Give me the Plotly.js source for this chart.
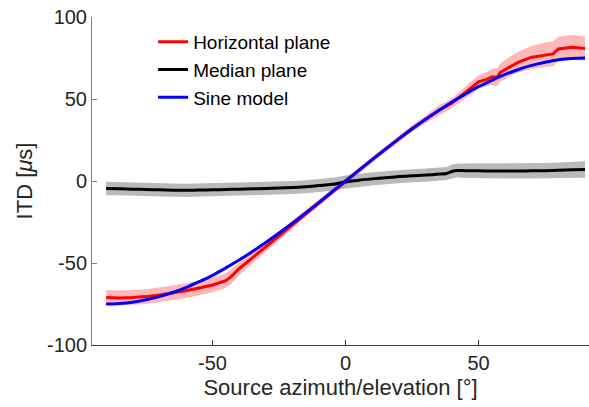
<!DOCTYPE html>
<html>
<head>
<meta charset="utf-8">
<script src="https://cdn.plot.ly/plotly-3.0.1.min.js"></script>
<style>html,body{margin:0;padding:0;background:#fff;}#chart{width:589px;height:407px;}</style>
</head>
<body>
<div id="chart"></div>
<script>
// Horizontal plane (red) – mean ITD and half-width of shaded band
const horizX   = [-90,-85,-80,-75,-70,-65,-60,-55,-50,-45,-43,-40,-35,-30,-25,-20,-15,-10,-5,0,5,10,15,20,25,30,35,40,45,48,50,53,55,57,58,60,63,65,70,75,78,80,85,90];
const horizY   = [-71,-71.3,-71,-70.5,-69.5,-68.3,-66.9,-65.2,-63.4,-60.8,-58.3,-53.5,-46.8,-40,-33.5,-26.6,-19.9,-13.2,-6.5,0,6.5,13,19.5,26,32,37.5,43,47.5,54,57.5,60.5,62,63.5,63.2,66,68,71,72.5,75.5,77,77.5,80.5,81.5,80.8];
const horizErr = [4.5,4.5,4.5,4.5,4.5,4.5,4.5,4.5,4.5,4.5,4.5,4,3.5,3,2.5,2.5,2,2,2,2,2,2,2,2,2,2.5,3,3,3.5,4,4,4.5,5,5.5,5.5,6,6,6.5,7,7.5,7.5,7.5,7.5,7.5];

// Median plane (black)
const medX   = [-90,-85,-80,-75,-70,-65,-60,-55,-50,-45,-40,-35,-30,-25,-20,-15,-10,-5,0,5,10,15,20,25,30,35,38,40,42,45,50,55,60,65,70,75,80,85,90];
const medY   = [-4.5,-4.8,-5,-5.2,-5.4,-5.6,-5.7,-5.5,-5.4,-5.2,-5,-4.8,-4.6,-4.3,-4,-3.5,-2.8,-2,-0.6,0.5,1.3,2,2.7,3.2,3.6,4.2,4.6,5.8,6.4,6.3,6.2,6.1,6.1,6.1,6.2,6.3,6.5,6.8,7];
const medErr = [4,4,4,4,4,4,4,4,4,4,4,4,4,4,4,4,4,4,4,4,4,4,4,4,4,4,4,4.2,4.3,4.4,4.5,4.5,4.5,4.6,4.6,4.7,4.8,4.9,5];

// Sine model (blue)
const sineX = [-90,-85,-80,-75,-70,-65,-60,-55,-50,-45,-40,-35,-30,-25,-20,-15,-10,-5,0,5,10,15,20,25,30,35,40,45,50,55,60,65,70,75,80,85,90];
const sineY = [-75,-74.7,-73.9,-72.4,-70.5,-68,-65,-61.4,-57.5,-53,-48.2,-43,-37.5,-31.7,-25.7,-19.4,-13,-6.5,0,6.5,13,19.4,25.7,31.7,37.5,43,48.2,53,57.5,61.4,65,68,70.5,72.4,73.9,74.7,75];

const xTicks = [-50, 0, 50];
const yTicks = [-100, -50, 0, 50, 100];

const lower = (y, e) => y.map((v, i) => v - e[i]);
const upper = (y, e) => y.map((v, i) => v + e[i]);

const traces = [
  {x: medX, y: lower(medY, medErr), mode: 'lines', line: {width: 0}, showlegend: false, hoverinfo: 'skip'},
  {x: medX, y: upper(medY, medErr), mode: 'lines', line: {width: 0}, fill: 'tonexty', fillcolor: 'rgba(0,0,0,0.27)', showlegend: false, hoverinfo: 'skip'},
  {x: horizX, y: lower(horizY, horizErr), mode: 'lines', line: {width: 0}, showlegend: false, hoverinfo: 'skip'},
  {x: horizX, y: upper(horizY, horizErr), mode: 'lines', line: {width: 0}, fill: 'tonexty', fillcolor: 'rgba(255,0,0,0.28)', showlegend: false, hoverinfo: 'skip'},
  {x: medX, y: medY, mode: 'lines', name: 'Median plane', line: {color: '#000000', width: 3, shape: 'spline', smoothing: 0.6}, legendrank: 2},
  {x: horizX, y: horizY, mode: 'lines', name: 'Horizontal plane', line: {color: '#ff0000', width: 3}, legendrank: 1},
  {x: sineX, y: sineY, mode: 'lines', name: 'Sine model', line: {color: '#0000ff', width: 3, shape: 'spline'}, legendrank: 3}
];

const layout = {
  width: 589, height: 407,
  margin: {l: 92, r: 0, t: 17, b: 62},
  paper_bgcolor: '#ffffff', plot_bgcolor: '#ffffff',
  font: {family: 'Liberation Sans, Arial, sans-serif', color: '#262626'},
  showlegend: true,
  legend: {x: 0.123, y: 0.982, xanchor: 'left', yanchor: 'top', bgcolor: 'rgba(0,0,0,0)', font: {size: 19, color: '#000000'}, traceorder: 'normal'},
  xaxis: {
    range: [-95.3, 91.5], tickvals: xTicks, ticktext: xTicks.map(String),
    ticks: 'inside', ticklen: 5, tickcolor: '#404040', showline: true, linecolor: '#404040', linewidth: 1,
    showgrid: false, zeroline: false, tickfont: {size: 20, color: '#262626'},
    title: {text: 'Source azimuth/elevation [°]', font: {size: 22, color: '#262626'}, standoff: 6}
  },
  yaxis: {
    range: [-100, 100], tickvals: yTicks, ticktext: yTicks.map(String),
    ticks: 'inside', ticklen: 5, tickcolor: '#808080', showline: true, linecolor: '#808080', linewidth: 1,
    showgrid: false, zeroline: false, tickfont: {size: 20, color: '#262626'},
    title: {text: 'ITD [<i>μ</i>s]', font: {size: 22, color: '#262626'}, standoff: 8}
  }
};

Plotly.newPlot('chart', traces, layout, {displayModeBar: false, staticPlot: true});
</script>
</body>
</html>
